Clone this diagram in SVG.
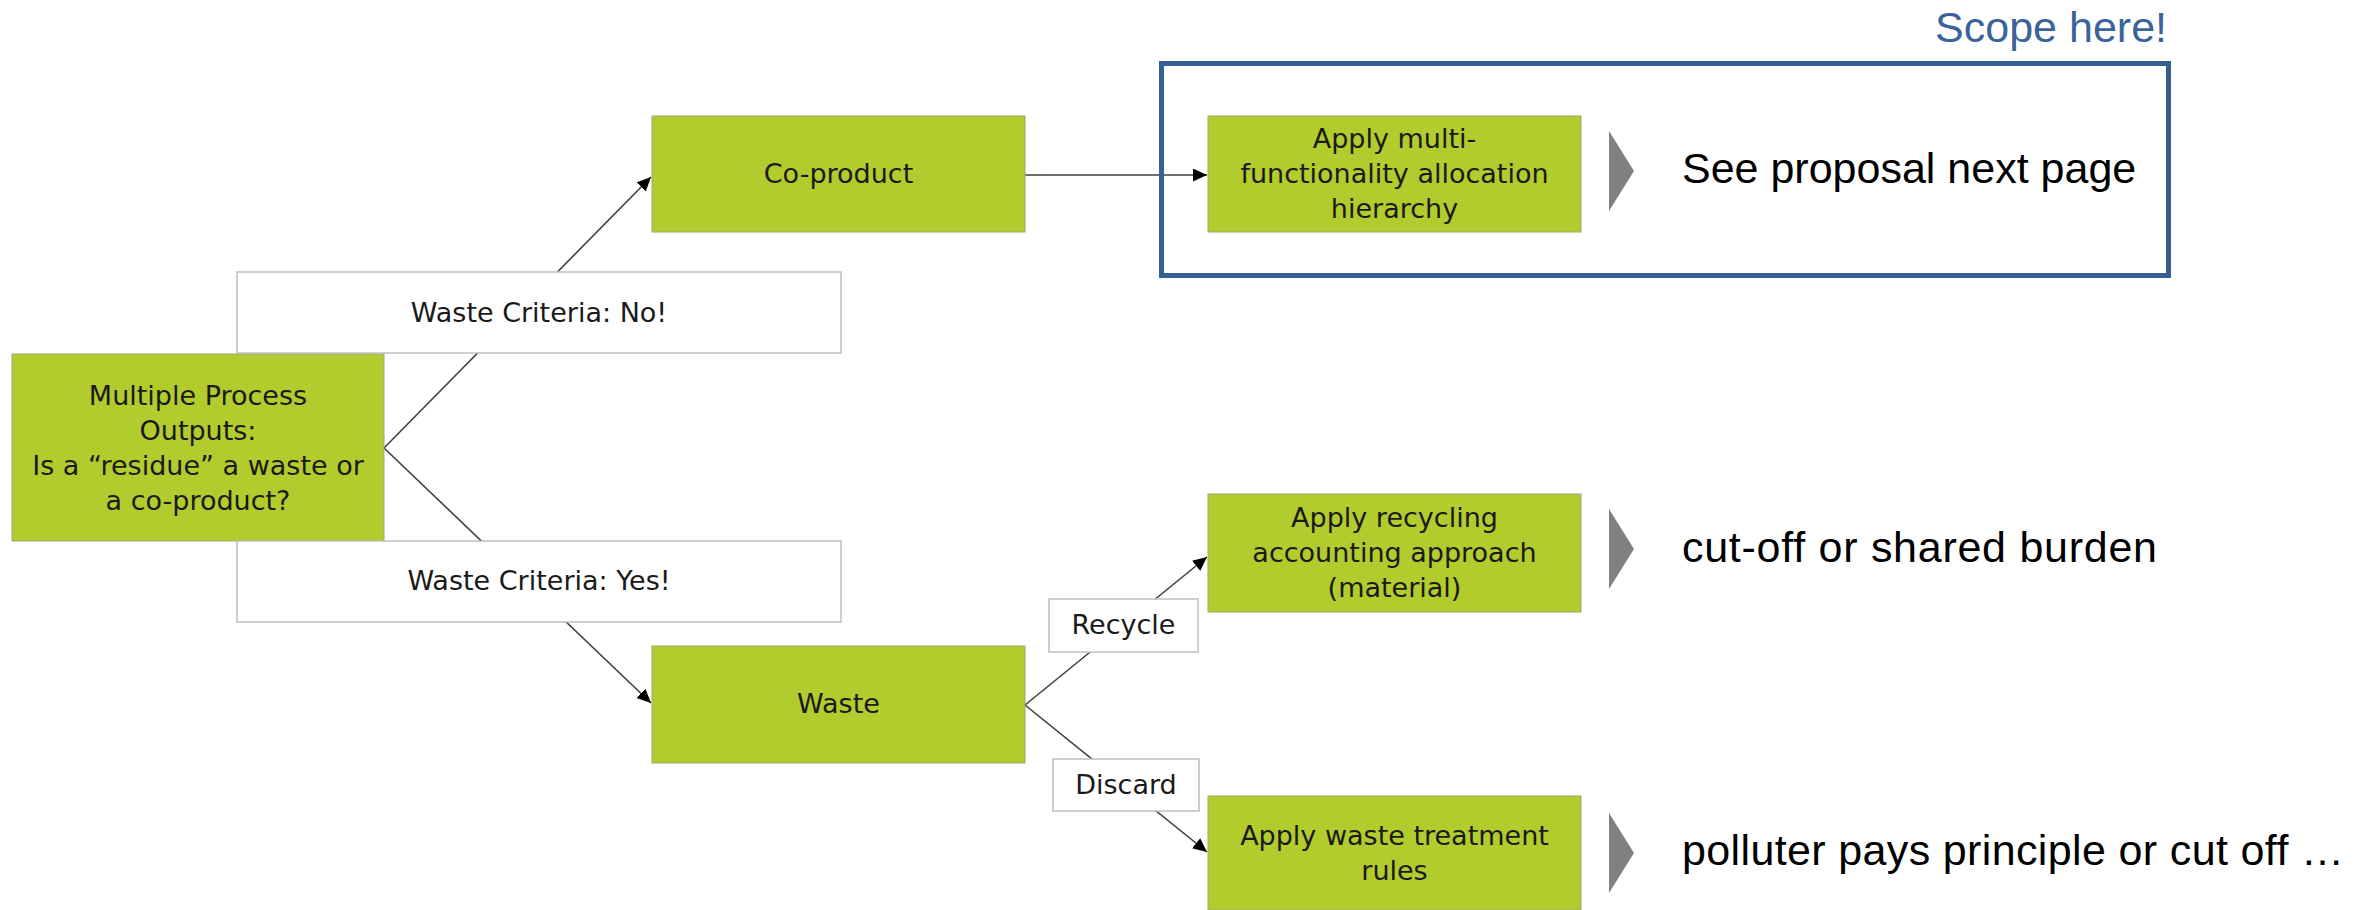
<svg xmlns="http://www.w3.org/2000/svg" width="2369" height="910" viewBox="0 0 2369 910">
<defs>
<style>
.box{fill:#B2CB2D;stroke:#A0A86C;stroke-width:1}
.lbl{fill:#FFFFFF;stroke:#BFBFBF;stroke-width:1.5}
.t{font-family:"DejaVu Sans",sans-serif;font-size:27px;fill:#1A1A1A;text-anchor:middle}
.big{font-family:"Liberation Sans",Arial,sans-serif;font-size:43px;fill:#000000}
.chev{fill:#808080}
.con{fill:none;stroke:#404040;stroke-width:1.6}
</style>
<marker id="ah" markerUnits="userSpaceOnUse" markerWidth="15" markerHeight="14" refX="14" refY="6.5" orient="auto">
<path d="M0,0 L14,6.5 L0,13 z" fill="#000000"/>
</marker>
</defs>
<rect x="0" y="0" width="2369" height="910" fill="#FFFFFF"/>

<g id="connectors">
<line class="con" x1="384" y1="448" x2="651" y2="177" marker-end="url(#ah)"/>
<line class="con" x1="384" y1="448" x2="651" y2="703" marker-end="url(#ah)"/>
<line class="con" x1="1025" y1="175" x2="1207" y2="175" marker-end="url(#ah)"/>
<line class="con" x1="1025" y1="705" x2="1207" y2="557" marker-end="url(#ah)"/>
<line class="con" x1="1025" y1="705" x2="1207" y2="852" marker-end="url(#ah)"/>
</g>

<g id="scope">
<rect x="1161.5" y="63.5" width="1007" height="212" fill="none" stroke="#365F93" stroke-width="5"/>
<text x="2167" y="42" font-family="'Liberation Sans',Arial,sans-serif" font-size="43" fill="#3B639A" text-anchor="end">Scope here!</text>
</g>

<g id="multiple-process-outputs">
<rect class="box" x="12" y="354" width="372" height="187"/>
<text class="t" x="198" y="405">Multiple Process</text>
<text class="t" x="198" y="440">Outputs:</text>
<text class="t" x="198" y="475">Is a “residue” a waste or</text>
<text class="t" x="198" y="510">a co-product?</text>
</g>

<g id="label-no">
<rect class="lbl" x="237" y="272" width="604" height="81"/>
<text class="t" x="539" y="322">Waste Criteria: No!</text>
</g>

<g id="label-yes">
<rect class="lbl" x="237" y="541" width="604" height="81"/>
<text class="t" x="539" y="590">Waste Criteria: Yes!</text>
</g>

<g id="co-product">
<rect class="box" x="652" y="116" width="373" height="116"/>
<text class="t" x="838.5" y="183">Co-product</text>
</g>

<g id="waste">
<rect class="box" x="652" y="646" width="373" height="117"/>
<text class="t" x="838.5" y="713">Waste</text>
</g>

<g id="label-recycle">
<rect class="lbl" x="1049" y="599" width="149" height="53"/>
<text class="t" x="1123.5" y="634">Recycle</text>
</g>

<g id="label-discard">
<rect class="lbl" x="1053" y="759" width="146" height="52"/>
<text class="t" x="1126" y="794">Discard</text>
</g>

<g id="apply-multifunctionality">
<rect class="box" x="1208" y="116" width="373" height="116"/>
<text class="t" x="1394.5" y="148">Apply multi-</text>
<text class="t" x="1394.5" y="183">functionality allocation</text>
<text class="t" x="1394.5" y="218">hierarchy</text>
</g>

<g id="apply-recycling">
<rect class="box" x="1208" y="494" width="373" height="118"/>
<text class="t" x="1394.5" y="527">Apply recycling</text>
<text class="t" x="1394.5" y="562">accounting approach</text>
<text class="t" x="1394.5" y="597">(material)</text>
</g>

<g id="apply-waste-treatment">
<rect class="box" x="1208" y="796" width="373" height="114"/>
<text class="t" x="1394.5" y="845">Apply waste treatment</text>
<text class="t" x="1394.5" y="880">rules</text>
</g>

<g id="outcome-1">
<polygon class="chev" points="1609,131 1634,171 1609,211"/>
<text class="big" x="1682" y="183">See proposal next page</text>
</g>

<g id="outcome-2">
<polygon class="chev" points="1609,509 1634,549 1609,589"/>
<text class="big" x="1682" y="562" textLength="475" lengthAdjust="spacing">cut-off or shared burden</text>
</g>

<g id="outcome-3">
<polygon class="chev" points="1609,813 1634,853 1609,893"/>
<text class="big" x="1682" y="865" textLength="662" lengthAdjust="spacing">polluter pays principle or cut off …</text>
</g>
</svg>
